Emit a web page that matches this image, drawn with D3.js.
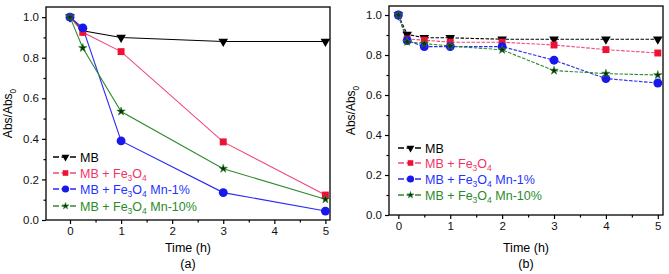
<!DOCTYPE html>
<html>
<head>
<meta charset="utf-8">
<script src="https://cdn.jsdelivr.net/npm/d3@7"></script>
<style>
body { margin: 0; background: #fff; }
text { font-family: "Liberation Sans", Arial, sans-serif; }
</style>
</head>
<body>
<script>
// series names (digits after letters become subscripts)
var seriesNames = ["MB", "MB + Fe3O4", "MB + Fe3O4 Mn-1%", "MB + Fe3O4 Mn-10%"];

// panel (a)
var timeA = [0, 0.25, 1, 3, 5];
var mbA = [1.0, 0.933, 0.90, 0.88, 0.88];
var fe3o4A = [1.0, 0.925, 0.83, 0.385, 0.123];
var mn1A = [1.0, 0.947, 0.39, 0.135, 0.044];
var mn10A = [1.0, 0.848, 0.535, 0.253, 0.102];

// panel (b)
var timeB = [0, 0.17, 0.5, 1, 2, 3, 4, 5];
var mbB = [1.0, 0.903, 0.886, 0.886, 0.879, 0.879, 0.879, 0.879];
var fe3o4B = [1.0, 0.88, 0.874, 0.864, 0.864, 0.85, 0.827, 0.81];
var mn1B = [1.0, 0.872, 0.842, 0.842, 0.842, 0.774, 0.682, 0.66];
var mn10B = [1.0, 0.866, 0.857, 0.845, 0.826, 0.722, 0.707, 0.70];

var xTicks = [0, 1, 2, 3, 4, 5];
var yTicks = [0, 0.2, 0.4, 0.6, 0.8, 1.0];

var lineColors = ["#000000", "#f04878", "#2a2af0", "#2f8a2f"];
var markColors = ["#000000", "#ee1035", "#1818ee", "#0c300c"];
var textColors = ["#000000", "#f2336a", "#2233ff", "#2a8a2a"];
var symbols = [d3.symbolTriangle, d3.symbolSquare, d3.symbolCircle, d3.symbolStar];
var symSizes = [40, 48, 62, 22];

var svg = d3.select("body").append("svg")
    .attr("width", 669).attr("height", 274);

function richText(sel, str) {
    var parts = str.split(/(?<=[A-Za-z])(\d)(?=[A-Z ]|$)/);
    parts.forEach(function (p, i) {
        if (p === "") return;
        if (i % 2 === 1) {
            sel.append("tspan").attr("font-size", "0.68em").attr("dy", 3.5).text(p);
        } else {
            var t = sel.append("tspan").text(p);
            if (i > 0) t.attr("dy", -3.5);
        }
    });
}

function marker(g, k, x, y, scale) {
    var sz = symSizes[k] * scale;
    g.append("path")
        .attr("d", d3.symbol().type(symbols[k]).size(sz)())
        .attr("transform", "translate(" + x + "," + y + ")" + (k === 0 ? " rotate(180)" : ""))
        .attr("fill", markColors[k])
        .attr("stroke", k === 3 ? "#2f8a2f" : "none")
        .attr("stroke-width", 0.6);
}

function panel(cfg) {
    var x = d3.scaleLinear().domain(cfg.xDom).range([cfg.left, cfg.right]);
    var y = d3.scaleLinear().domain(cfg.yDom).range([cfg.bottom, cfg.top]);
    var g = svg.append("g");

    // minor ticks
    var xMinor = d3.range(0, 5.01, 0.5).filter(function (d) { return d % 1 !== 0; });
    var yMinor = d3.range(0.1, 1.01, 0.2);

    var xAxis = d3.axisBottom(x).tickValues(xTicks).tickFormat(d3.format("d")).tickSize(4).tickPadding(3);
    var yAxis = d3.axisLeft(y).tickValues(yTicks).tickFormat(d3.format(".1f")).tickSize(4).tickPadding(3);

    g.append("g").attr("transform", "translate(0," + cfg.bottom + ")").call(xAxis);
    g.append("g").attr("transform", "translate(" + cfg.left + ",0)").call(yAxis);
    g.append("g").attr("transform", "translate(0," + cfg.bottom + ")")
        .call(d3.axisBottom(x).tickValues(xMinor).tickFormat("").tickSize(2.5));
    g.append("g").attr("transform", "translate(" + cfg.left + ",0)")
        .call(d3.axisLeft(y).tickValues(yMinor).tickFormat("").tickSize(2.5));
    g.selectAll(".domain").remove();
    g.selectAll(".tick line").attr("stroke", "#000").attr("stroke-width", 1.2);
    g.selectAll(".tick text").attr("font-size", 11.5).attr("fill", "#111")
        .style("font-family", "'Liberation Sans', Arial, sans-serif");

    g.append("rect")
        .attr("x", cfg.left).attr("y", cfg.top)
        .attr("width", cfg.right - cfg.left).attr("height", cfg.bottom - cfg.top)
        .attr("fill", "none").attr("stroke", "#000").attr("stroke-width", 1.3);

    var line = d3.line().x(function (d) { return x(d[0]); }).y(function (d) { return y(d[1]); });

    cfg.series.forEach(function (vals, k) {
        var pts = cfg.time.map(function (t, i) { return [t, vals[i]]; });
        g.append("path").datum(pts)
            .attr("d", line)
            .attr("fill", "none")
            .attr("stroke", lineColors[k])
            .attr("stroke-width", 1.1)
            .attr("stroke-dasharray", cfg.dash);
    });
    cfg.series.forEach(function (vals, k) {
        cfg.time.forEach(function (t, i) {
            marker(g, k, x(t), y(vals[i]), 1);
        });
    });

    // legend
    seriesNames.forEach(function (name, k) {
        var ly = cfg.legY[k];
        g.append("line")
            .attr("x1", cfg.legX).attr("x2", cfg.legX + 25)
            .attr("y1", ly).attr("y2", ly)
            .attr("stroke", lineColors[k]).attr("stroke-width", 1.6)
            .attr("stroke-dasharray", "6,2.5");
        marker(g, k, cfg.legX + 12.5, ly, 0.65);
        var t = g.append("text")
            .attr("x", cfg.legX + 27).attr("y", ly + 4.5)
            .attr("font-size", 12.5).attr("fill", textColors[k]);
        richText(t, name);
    });

    // axis titles
    var cx = (cfg.left + cfg.right) / 2;
    g.append("text").attr("x", cx).attr("y", 252)
        .attr("text-anchor", "middle").attr("font-size", 12.5).text("Time (h)");
    g.append("text").attr("x", cx).attr("y", 268)
        .attr("text-anchor", "middle").attr("font-size", 12.5).text(cfg.tag);
    var yl = g.append("text")
        .attr("transform", "translate(" + cfg.yLabX + "," + ((cfg.top + cfg.bottom) / 2) + ") rotate(-90)")
        .attr("text-anchor", "middle").attr("font-size", 12);
    richText(yl, "Abs/Abs0");
}

panel({
    left: 46, right: 330, top: 7, bottom: 220,
    xDom: [-0.47, 5.09], yDom: [0, 1.05],
    time: timeA, series: [mbA, fe3o4A, mn1A, mn10A],
    dash: null,
    legX: 53, legY: [157, 173, 189, 206],
    yLabX: 12, tag: "(a)"
});

panel({
    left: 389, right: 663, top: 6, bottom: 215,
    xDom: [-0.18, 5.1], yDom: [0, 1.045],
    time: timeB, series: [mbB, fe3o4B, mn1B, mn10B],
    dash: "3.5,1.5",
    legX: 398, legY: [148, 163, 179, 195],
    yLabX: 355, tag: "(b)"
});
</script>
</body>
</html>
